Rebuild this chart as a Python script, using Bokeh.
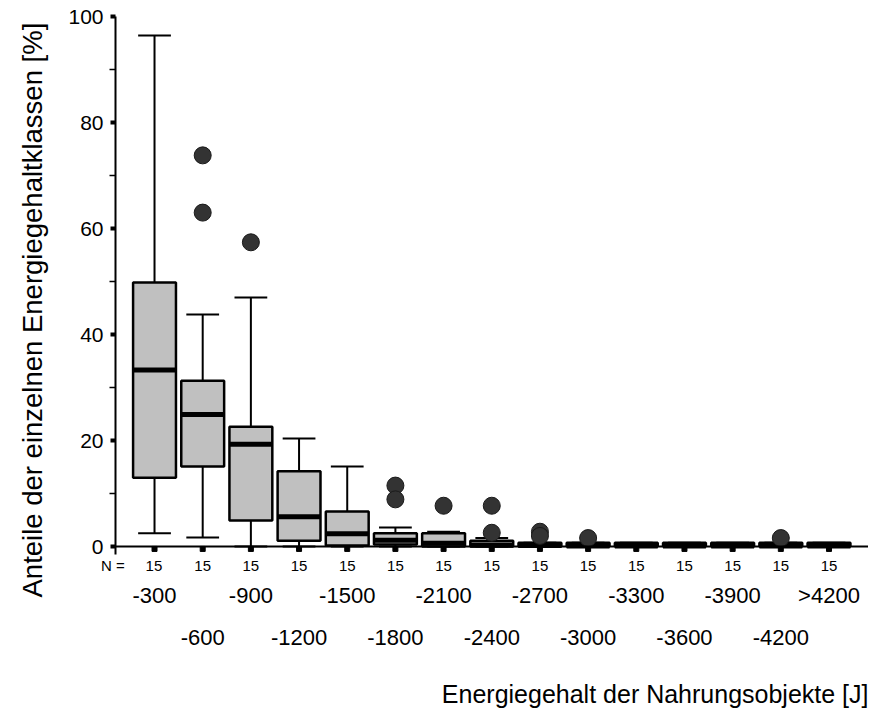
from bokeh.plotting import figure
from bokeh.models import (Range1d, FixedTicker, LinearAxis, Span, Title,
                          ColumnDataSource)
from bokeh.embed import file_html
from bokeh.resources import INLINE

# ---- data ----
categories = ["-300", "-600", "-900", "-1200", "-1500", "-1800", "-2100", "-2400",
              "-2700", "-3000", "-3300", "-3600", "-3900", "-4200", ">4200"]
n_values = [15, 15, 15, 15, 15, 15, 15, 15, 15, 15, 15, 15, 15, 15, 15]
lower = [2.5, 1.7, 0.0, 0.0, 0.0, 0.0, 0.0, 0.0, 0.0, 0.0, 0.0, 0.0, 0.0, 0.0, 0.0]
q1 = [13.0, 15.1, 4.9, 1.1, 0.2, 0.4, 0.0, 0.0, 0.0, 0.0, 0.0, 0.0, 0.0, 0.0, 0.0]
median = [33.3, 24.9, 19.3, 5.6, 2.4, 1.2, 0.6, 0.3, 0.2, 0.1, 0.1, 0.1, 0.1, 0.1, 0.1]
q3 = [49.8, 31.3, 22.6, 14.2, 6.6, 2.5, 2.5, 1.1, 0.7, 0.7, 0.7, 0.7, 0.7, 0.7, 0.7]
upper = [96.4, 43.8, 47.0, 20.4, 15.1, 3.6, 2.8, 1.6, 0.7, 0.7, 0.7, 0.7, 0.7, 0.7, 0.7]
outlier_cat = [1, 1, 2, 5, 5, 6, 7, 7, 8, 8, 9, 13]
outlier_val = [73.8, 63.0, 57.4, 11.5, 8.9, 7.7, 7.7, 2.6, 2.8, 2.0, 1.6, 1.6]
y_ticks = [0, 20, 40, 60, 80, 100]
y_minor = [10, 30, 50, 70, 90]
n_prefix = "N ="

FONT = "Liberation Sans"
BOX_W = 0.89
CAP_W = 0.68
NB = "\u00a0"

idx = list(range(len(categories)))
src = ColumnDataSource(dict(
    x=idx,
    left=[i - BOX_W / 2 for i in idx], right=[i + BOX_W / 2 for i in idx],
    cleft=[i - CAP_W / 2 for i in idx], cright=[i + CAP_W / 2 for i in idx],
    lower=lower, q1=q1, med=median, q3=q3, upper=upper,
))

p = figure(width=868, height=712, output_backend="svg", toolbar_location=None,
           x_range=Range1d(-0.81, 14.82), y_range=Range1d(-1.5, 100),
           x_axis_type=None, y_axis_type=None,
           min_border_left=113, min_border_right=0, min_border_top=16,
           min_border_bottom=0)
p.grid.visible = False
p.outline_line_color = None
p.background_fill_color = "white"
p.border_fill_color = "white"

# y axis
yax = LinearAxis(ticker=FixedTicker(ticks=y_ticks, minor_ticks=y_minor))
yax.axis_line_width = 2
yax.major_tick_out = 5
yax.major_tick_in = 0
yax.major_tick_line_width = 4
yax.minor_tick_out = 6
yax.minor_tick_in = 0
yax.minor_tick_line_width = 1.5
yax.major_label_text_font = FONT
yax.major_label_text_font_size = "21px"
yax.major_label_text_color = "black"
yax.major_label_standoff = 6
p.add_layout(yax, "left")

yt = Title(text="Anteile der einzelnen Energiegehaltklassen [%]", align="left",
           vertical_align="top", offset=-43, standoff=32, text_color="black",
           text_font=FONT, text_font_size="27.5px", text_font_style="normal")
p.add_layout(yt, "left")

# x axes: N row, then two alternating rows of category labels
n_labels = {i: str(v) for i, v in zip(idx, n_values)}
# first label carries the "N =" prefix, padded so that the count stays centred
n_labels[0] = n_prefix + NB * 5 + str(n_values[0]) + NB * 11
ax_n = LinearAxis(ticker=FixedTicker(ticks=idx, minor_ticks=[]),
                  major_label_overrides=n_labels)
ax_n.axis_line_color = None
ax_n.major_tick_line_color = None
ax_n.major_tick_in = 0
ax_n.major_tick_out = 0
ax_n.major_label_text_font = FONT
ax_n.major_label_text_font_size = "15px"
ax_n.major_label_text_color = "black"
ax_n.major_label_standoff = 2
p.add_layout(ax_n, "below")

even = idx[0::2]
odd = idx[1::2]
ax_e = LinearAxis(ticker=FixedTicker(ticks=even, minor_ticks=[]),
                  major_label_overrides={i: categories[i] for i in even})
ax_o = LinearAxis(ticker=FixedTicker(ticks=odd, minor_ticks=[]),
                  major_label_overrides={i: categories[i] for i in odd})
for ax, st in ((ax_e, 6), (ax_o, 19)):
    ax.axis_line_color = None
    ax.major_tick_line_color = None
    ax.major_tick_in = 0
    ax.major_tick_out = 0
    ax.major_label_text_font = FONT
    ax.major_label_text_font_size = "22px"
    ax.major_label_text_color = "black"
    ax.major_label_standoff = st
    p.add_layout(ax, "below")
# blank axis label used only as vertical spacing before the axis title
ax_o.axis_label = NB
ax_o.axis_label_standoff = 0
ax_o.axis_label_text_font_size = "23px"

xt = Title(text="Energiegehalt der Nahrungsobjekte [J]", align="right",
           vertical_align="top", text_color="black",
           text_font=FONT, text_font_size="25px", text_font_style="normal",
           standoff=6)
p.add_layout(xt, "below")

# zero line (x axis line)
p.add_layout(Span(location=0, dimension="width", line_color="black", line_width=2))

# small square tick marks under every category
p.scatter(x=idx, y=[-0.45] * len(idx), marker="square", size=5,
          fill_color="black", line_color="black")

# whiskers
p.segment(x0="x", y0="q3", x1="x", y1="upper", source=src, line_color="black", line_width=2)
p.segment(x0="x", y0="lower", x1="x", y1="q1", source=src, line_color="black", line_width=2)
p.segment(x0="cleft", y0="upper", x1="cright", y1="upper", source=src,
          line_color="black", line_width=2)
p.segment(x0="cleft", y0="lower", x1="cright", y1="lower", source=src,
          line_color="black", line_width=2)
# boxes
p.quad(left="left", right="right", bottom="q1", top="q3", source=src,
       fill_color="#c0c0c0", line_color="black", line_width=2.5)
# medians
p.segment(x0="left", y0="med", x1="right", y1="med", source=src,
          line_color="black", line_width=5)
# outliers
p.scatter(x=outlier_cat, y=outlier_val, marker="circle", size=17,
          fill_color="#333333", line_color="#1a1a1a", line_width=1)

open("out.html", "w").write(file_html(p, INLINE))
